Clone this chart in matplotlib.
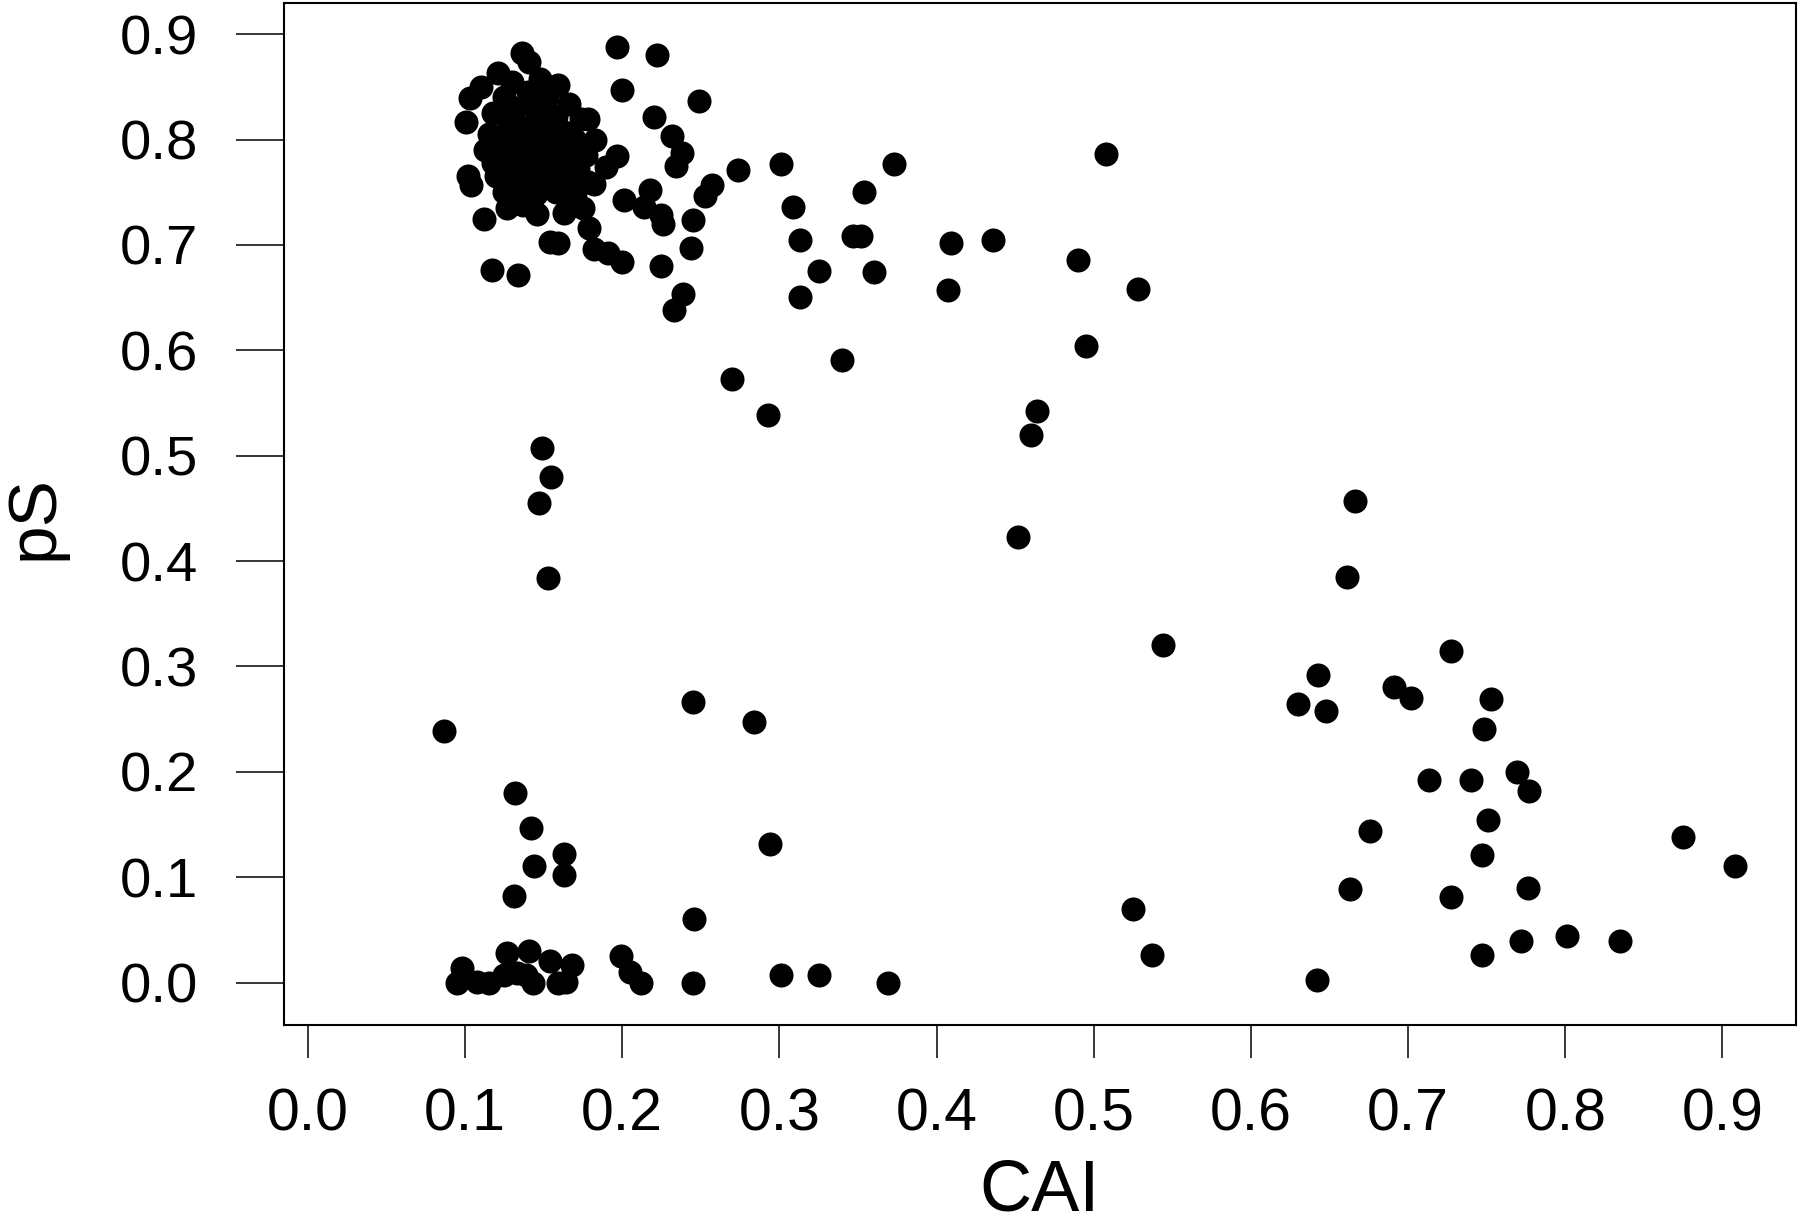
import matplotlib
matplotlib.use("Agg")
import matplotlib.pyplot as plt

# dense group top left (CAI, pS)
cluster_cai = [0.136, 0.141, 0.121, 0.110, 0.103, 0.101, 0.159, 0.166, 0.174, 0.148,
               0.130, 0.140, 0.152, 0.125, 0.118, 0.132, 0.145, 0.158, 0.115, 0.128,
               0.138, 0.150, 0.162, 0.170, 0.113, 0.122, 0.133, 0.143, 0.155, 0.165,
               0.118, 0.128, 0.138, 0.148, 0.160, 0.172, 0.120, 0.132, 0.142, 0.152,
               0.165, 0.125, 0.135, 0.145, 0.158, 0.170, 0.127, 0.137, 0.146, 0.163,
               0.175, 0.178, 0.177, 0.102, 0.104, 0.112, 0.117, 0.134, 0.154, 0.159,
               0.178, 0.183, 0.190, 0.182, 0.197]
cluster_ps = [0.882, 0.874, 0.863, 0.850, 0.839, 0.817, 0.852, 0.834, 0.819, 0.857,
              0.855, 0.845, 0.840, 0.840, 0.825, 0.830, 0.828, 0.822, 0.805, 0.815,
              0.812, 0.810, 0.808, 0.800, 0.790, 0.795, 0.798, 0.795, 0.792, 0.788,
              0.778, 0.782, 0.780, 0.778, 0.775, 0.772, 0.765, 0.768, 0.762, 0.765,
              0.760, 0.750, 0.752, 0.748, 0.750, 0.745, 0.735, 0.738, 0.729, 0.730,
              0.735, 0.760, 0.785, 0.765, 0.757, 0.725, 0.676, 0.671, 0.703, 0.702,
              0.819, 0.800, 0.774, 0.758, 0.784]

# points around the group
upper_cai = [0.197, 0.222, 0.200, 0.249, 0.220, 0.232, 0.238, 0.234, 0.274, 0.257,
             0.253, 0.201, 0.218, 0.214, 0.225, 0.226, 0.245, 0.244, 0.225, 0.239,
             0.233, 0.179, 0.182, 0.191, 0.200, 0.301, 0.373, 0.508, 0.354, 0.309,
             0.313, 0.347, 0.352, 0.409, 0.436, 0.325, 0.360, 0.490, 0.313, 0.407,
             0.528, 0.340, 0.495, 0.270, 0.293, 0.464, 0.460, 0.452]
upper_ps = [0.888, 0.880, 0.847, 0.837, 0.821, 0.803, 0.787, 0.775, 0.771, 0.757,
            0.746, 0.743, 0.752, 0.736, 0.728, 0.720, 0.724, 0.697, 0.680, 0.653,
            0.638, 0.716, 0.696, 0.692, 0.684, 0.777, 0.777, 0.786, 0.750, 0.736,
            0.705, 0.708, 0.708, 0.702, 0.705, 0.675, 0.674, 0.686, 0.651, 0.657,
            0.658, 0.591, 0.604, 0.573, 0.539, 0.542, 0.520, 0.423]

# middle and lower left
low_cai = [0.149, 0.155, 0.147, 0.153, 0.245, 0.284, 0.087, 0.132, 0.142, 0.163,
           0.163, 0.144, 0.131, 0.294, 0.246, 0.127, 0.141, 0.154, 0.168, 0.098,
           0.095, 0.108, 0.115, 0.125, 0.133, 0.139, 0.143, 0.159, 0.164, 0.199,
           0.205, 0.212, 0.245, 0.301, 0.325, 0.369]
low_ps = [0.507, 0.480, 0.455, 0.384, 0.266, 0.247, 0.239, 0.180, 0.147, 0.122,
          0.102, 0.111, 0.082, 0.132, 0.060, 0.028, 0.030, 0.021, 0.017, 0.014,
          0.000, 0.001, 0.000, 0.007, 0.009, 0.007, 0.000, 0.000, 0.001, 0.025,
          0.010, 0.000, 0.000, 0.007, 0.007, 0.000]

# right side
right_cai = [0.544, 0.666, 0.661, 0.727, 0.643, 0.630, 0.648, 0.691, 0.702, 0.753,
             0.748, 0.769, 0.777, 0.713, 0.740, 0.751, 0.676, 0.747, 0.875, 0.908,
             0.663, 0.727, 0.776, 0.772, 0.801, 0.835, 0.747, 0.642, 0.525, 0.537]
right_ps = [0.320, 0.457, 0.385, 0.315, 0.292, 0.264, 0.258, 0.281, 0.270, 0.269,
            0.241, 0.200, 0.182, 0.192, 0.192, 0.154, 0.144, 0.121, 0.138, 0.111,
            0.089, 0.081, 0.090, 0.040, 0.044, 0.040, 0.026, 0.003, 0.070, 0.026]

cai = cluster_cai + upper_cai + low_cai + right_cai
ps = cluster_ps + upper_ps + low_ps + right_ps

plt.rcParams['font.family'] = ['Liberation Sans', 'DejaVu Sans']

fig = plt.figure(figsize=(18, 12.25), dpi=100)
ax = fig.add_axes([0.1576, 0.1633, 0.8402, 0.8339])

ax.scatter(cai, ps, s=300, color="black", linewidths=0, zorder=3)

ax.set_xlim(-0.0153, 0.9468)
ax.set_ylim(-0.0401, 0.9291)

ticks = [0.0, 0.1, 0.2, 0.3, 0.4, 0.5, 0.6, 0.7, 0.8, 0.9]
ax.set_xticks(ticks)
ax.set_xticklabels([f"{v:.1f}" for v in ticks], fontsize=42.5)
ax.set_yticks(ticks)
ax.set_yticklabels([f"{v:.1f}" for v in ticks], fontsize=40.5)

ax.tick_params(axis="x", length=24, width=1.1, pad=21, direction="out")
ax.tick_params(axis="y", length=34.6, width=1.1, pad=27, direction="out")
for sp in ax.spines.values():
    sp.set_linewidth(1.5)

ax.set_xlabel("CAI", fontsize=52)
ax.xaxis.set_label_coords(0.5, -0.131)
ax.xaxis.label.set_va("top")
ax.set_ylabel("pS", fontsize=50)
ax.yaxis.set_label_coords(-0.165, 0.497)
ax.yaxis.label.set_va("center")

fig.savefig("out.png", dpi=100)
